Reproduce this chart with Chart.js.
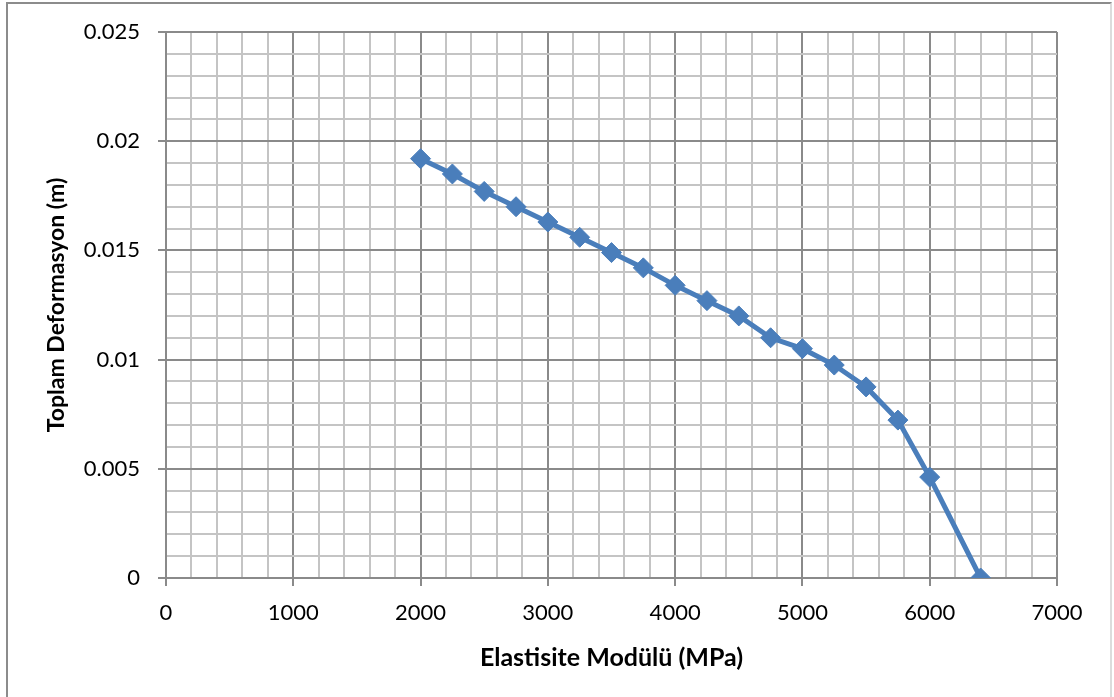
<!DOCTYPE html>
<html>
<head>
<meta charset="utf-8">
<script src="https://cdn.jsdelivr.net/npm/chart.js@4.4.1/dist/chart.umd.min.js"></script>
<style>
  html, body { margin: 0; padding: 0; background: #fff; overflow: hidden; }
  #frame {
    position: absolute; left: 6px; top: 2px; width: 1106px; height: 720px;
    border: 2px solid #8c8c8c; border-right-color: #dcdcdc; box-sizing: border-box;
  }
  #chart { position: absolute; left: 0; top: 0; }
</style>
</head>
<body>
<div id="frame"></div>
<canvas id="chart" width="1114" height="697"></canvas>
<script>
// Elastisite modülü (MPa) ve toplam deformasyon (m)
const modulus = [2000, 2250, 2500, 2750, 3000, 3250, 3500, 3750, 4000, 4250, 4500, 4750, 5000, 5250, 5500, 5750, 6000, 6400];
const deformation = [0.0192, 0.0185, 0.0177, 0.0170, 0.0163, 0.0156, 0.0149, 0.0142, 0.0134, 0.0127, 0.0120, 0.0110, 0.0105, 0.00975, 0.00875, 0.00723, 0.00462, 0];
const xLabels = [0, 1000, 2000, 3000, 4000, 5000, 6000, 7000];
const yLabels = [0, 0.005, 0.01, 0.015, 0.02, 0.025];

const points = modulus.map((m, i) => ({ x: m, y: deformation[i] }));

const majorColor = "#8a8a8a";
const minorColor = "#c4c4c4";
const fontFamily = "Lato, 'Open Sans', sans-serif";

function isMajorX(v) {
  return xLabels.includes(Math.round(v));
}
function isMajorY(v) {
  return yLabels.some((l) => Math.abs(l - v) < 1e-7);
}

const ctx = document.getElementById("chart").getContext("2d");
new Chart(ctx, {
  type: "line",
  data: {
    datasets: [
      {
        data: points,
        borderColor: "#4a7ebb",
        backgroundColor: "#4a7ebb",
        borderWidth: 5,
        pointStyle: "rectRot",
        pointRadius: 10,
        pointBorderWidth: 1,
        pointBackgroundColor: "#4a7ebb",
        pointBorderColor: "#4a7ebb",
        tension: 0,
        fill: false,
      },
    ],
  },
  options: {
    responsive: false,
    animation: false,
    devicePixelRatio: 1,
    layout: { padding: { top: 32, right: 57, left: 0, bottom: 0 } },
    plugins: {
      legend: { display: false },
      tooltip: { enabled: false },
    },
    scales: {
      x: {
        type: "linear",
        min: 0,
        max: 7000,
        afterFit: (scale) => { scale.height = 119; },
        ticks: {
          stepSize: 200,
          autoSkip: false,
          maxTicksLimit: 100,
          maxRotation: 0,
          padding: 14,
          color: "#000",
          font: { family: fontFamily, size: 22 },
          callback: (v) => (isMajorX(v) ? String(Math.round(v)) : ""),
        },
        grid: {
          color: (c) => (isMajorX(c.tick.value) ? majorColor : minorColor),
          lineWidth: 2,
          tickLength: 8,
          tickColor: (c) => (isMajorX(c.tick.value) ? majorColor : "rgba(0,0,0,0)"),
          tickWidth: 2,
        },
        border: { color: majorColor, width: 2 },
        title: {
          display: true,
          text: "Elastisite Modülü (MPa)",
          color: "#000",
          font: { family: fontFamily, size: 25, weight: "bold" },
          padding: { top: 0, bottom: 24 },
        },
      },
      y: {
        type: "linear",
        min: 0,
        max: 0.025,
        afterFit: (scale) => { scale.width = 166; },
        ticks: {
          stepSize: 0.001,
          autoSkip: false,
          maxTicksLimit: 100,
          padding: 18,
          color: "#000",
          font: { family: fontFamily, size: 22 },
          callback: (v) => (isMajorY(v) ? String(+v.toFixed(3)) : ""),
        },
        grid: {
          color: (c) => (isMajorY(c.tick.value) ? majorColor : minorColor),
          lineWidth: 2,
          tickLength: 8,
          tickColor: (c) => (isMajorY(c.tick.value) ? majorColor : "rgba(0,0,0,0)"),
          tickWidth: 2,
        },
        border: { color: majorColor, width: 2 },
        title: {
          display: true,
          text: "Toplam Deformasyon (m)",
          color: "#000",
          font: { family: fontFamily, size: 23, weight: "bold" },
          padding: { top: 43, bottom: 0 },
        },
      },
    },
  },
});
</script>
</body>
</html>
